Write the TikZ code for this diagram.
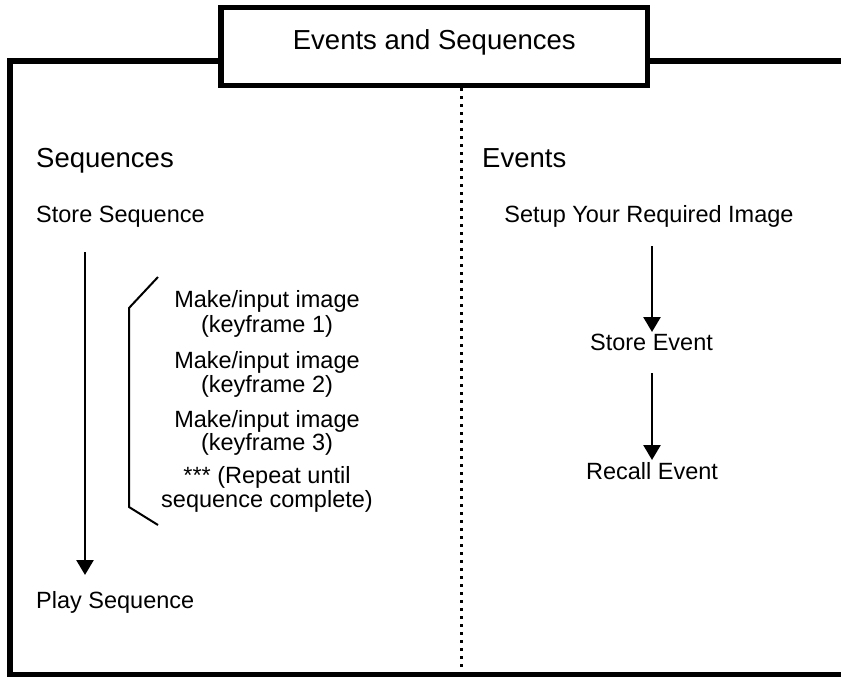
\documentclass[tikz,border=0pt]{standalone}
\usepackage{fontspec}
\setmainfont{Liberation Sans}
\usetikzlibrary{arrows.meta}
\begin{document}
\begin{tikzpicture}[x=1pt,y=-1pt,
  big/.style={inner sep=0pt,font=\fontsize{27.5}{29}\selectfont},
  txt/.style={inner sep=0pt,font=\fontsize{23.5}{24.5}\selectfont},
  frameline/.style={line width=5.5pt,line join=miter},
  arr/.style={line width=2.6pt,-{Triangle[length=15pt,width=17pt]}},
  brk/.style={line width=2pt,line join=miter},
  dotline/.style={line width=3pt,dash pattern=on 3pt off 5pt}]
\useasboundingbox (0,0) rectangle (841,677);
\clip (0,0) rectangle (841,677);
% outer frame
\coordinate (fl) at (221,61);
\coordinate (fr) at (647.5,61);
\draw[frameline] (fl) -- (10,61) -- (10,674.5) -- (850,674.5);
\draw[frameline] (fr) -- (850,61);
% divider
\coordinate (dtop) at (461,88);
\coordinate (dbot) at (461,672);
\draw[dotline] (dtop) -- (dbot);
% title box
\draw[frameline,fill=white] (221,7.5) rectangle (647.5,85.5);
\node[big,anchor=base] (title) at (434.3,50) {Events and Sequences};
% left column
\node[big,anchor=base west] (seq) at (36,167) {Sequences};
\node[txt,anchor=base west] (store) at (36,222) {Store Sequence};
\node[txt,anchor=base west] (play) at (36,608) {Play Sequence};
\coordinate (a1s) at (85,252);
\coordinate (a1e) at (85,575);
\draw[arr] (a1s) -- (a1e);
% bracket
\coordinate (b1) at (158,277);
\coordinate (b2) at (129,308);
\coordinate (b3) at (129,507);
\coordinate (b4) at (158,525);
\draw[brk] (b1) -- (b2) -- (b3) -- (b4);
\node[txt,anchor=base] (k1a) at (267,307) {Make/input image};
\node[txt,anchor=base] (k1b) at (267,332) {(keyframe 1)};
\node[txt,anchor=base] (k2a) at (267,368) {Make/input image};
\node[txt,anchor=base] (k2b) at (267,392) {(keyframe 2)};
\node[txt,anchor=base] (k3a) at (267,427) {Make/input image};
\node[txt,anchor=base] (k3b) at (267,450) {(keyframe 3)};
\node[txt,anchor=base] (k4a) at (267,483) {*** (Repeat until};
\node[txt,anchor=base] (k4b) at (267,507) {sequence complete)};
% right column
\node[big,anchor=base west] (ev) at (482,167) {Events};
\node[txt,anchor=base] (setup) at (649,222) {Setup Your Required Image};
\node[txt,anchor=base] (sev) at (651.5,350) {Store Event};
\node[txt,anchor=base] (rev) at (652,479) {Recall Event};
\coordinate (a2s) at (652,246);
\coordinate (a2e) at (652,332);
\coordinate (a3s) at (652,373);
\coordinate (a3e) at (652,460);
\draw[arr] (a2s) -- (a2e);
\draw[arr] (a3s) -- (a3e);
\end{tikzpicture}
\end{document}
